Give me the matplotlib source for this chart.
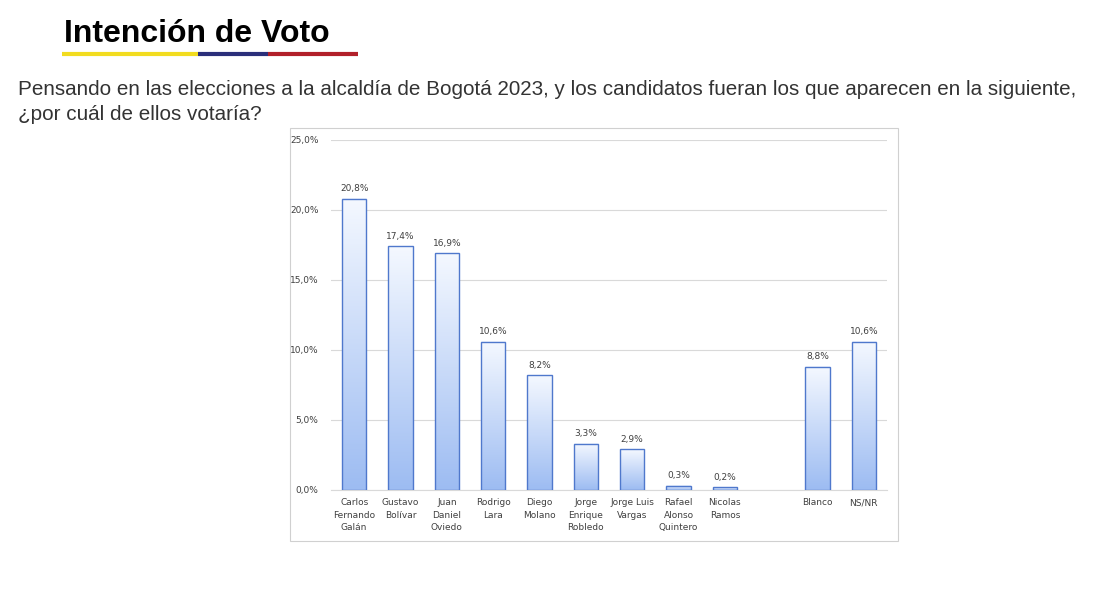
import matplotlib.pyplot as plt
import numpy as np
from matplotlib.colors import LinearSegmentedColormap
from matplotlib.patches import Rectangle

categories = ['Carlos\nFernando\nGalán', 'Gustavo\nBolívar', 'Juan\nDaniel\nOviedo', 'Rodrigo\nLara',
              'Diego\nMolano', 'Jorge\nEnrique\nRobledo', 'Jorge Luis\nVargas', 'Rafael\nAlonso\nQuintero',
              'Nicolas\nRamos', '', 'Blanco', 'NS/NR']
values = [20.8, 17.4, 16.9, 10.6, 8.2, 3.3, 2.9, 0.3, 0.2, None, 8.8, 10.6]
yticks = [0, 5, 10, 15, 20, 25]

fig = plt.figure(figsize=(11.01, 6.14), dpi=100)
fig.text(0.058, 0.945, 'Intención de Voto', fontsize=23, fontweight='bold', va='center', family='Liberation Sans')
for x0, x1, c in [(62, 198, '#f2dc1f'), (198, 268, '#2b2f7a'), (268, 358, '#b2202a')]:
    fig.add_artist(plt.Line2D([x0 / 1101, x1 / 1101], [1 - 54 / 614] * 2, color=c, lw=3, solid_capstyle='butt'))
fig.text(0.016, 0.855, 'Pensando en las elecciones a la alcaldía de Bogotá 2023, y los candidatos fueran los que aparecen en la siguiente,',
         fontsize=14.85, color='#333333', va='center', family='Liberation Sans')
fig.text(0.016, 0.813, '¿por cuál de ellos votaría?', fontsize=14.85, color='#333333', va='center', family='Liberation Sans')

# chart frame
fig.add_artist(Rectangle((290 / 1101, 1 - 541 / 614), 608 / 1101, 413 / 614, fill=False, ec='#d0d0d0', lw=0.8))

ax = fig.add_axes([331 / 1101, 1 - 490 / 614, 556 / 1101, 350 / 614])
cmap = LinearSegmentedColormap.from_list('g', ['#f4f8ff', '#9dbcf2'])
grad = np.linspace(0, 1, 100).reshape(-1, 1)
w = 0.52
for i, v in enumerate(values):
    if v is None:
        continue
    ax.imshow(grad, cmap=cmap, extent=[i - w / 2, i + w / 2, 0, v], aspect='auto', origin='upper', zorder=2)
    ax.add_patch(Rectangle((i - w / 2, 0), w, v, fill=False, ec='#4f78cc', lw=1, zorder=3))
    ax.text(i, v + 0.4, f'{v:.1f}%'.replace('.', ','), ha='center', va='bottom', fontsize=6.5, color='#404040')

ax.set_xlim(-0.5, len(categories) - 0.5)
ax.set_ylim(0, 25)
ax.set_yticks(yticks)
ax.set_yticklabels([f'{t:.1f}%'.replace('.', ',') for t in yticks], fontsize=6.5, color='#404040')
ax.set_xticks(range(len(categories)))
ax.set_xticklabels(categories, fontsize=6.5, color='#404040', linespacing=1.5)
ax.grid(axis='y', color='#d9d9d9', lw=0.8, zorder=0)
for s in ['top', 'right', 'left']:
    ax.spines[s].set_visible(False)
ax.spines['bottom'].set_color('#d9d9d9')
ax.tick_params(length=0, pad=6)
ax.tick_params(axis='y', pad=9)

fig.savefig('out.png', dpi=100)
